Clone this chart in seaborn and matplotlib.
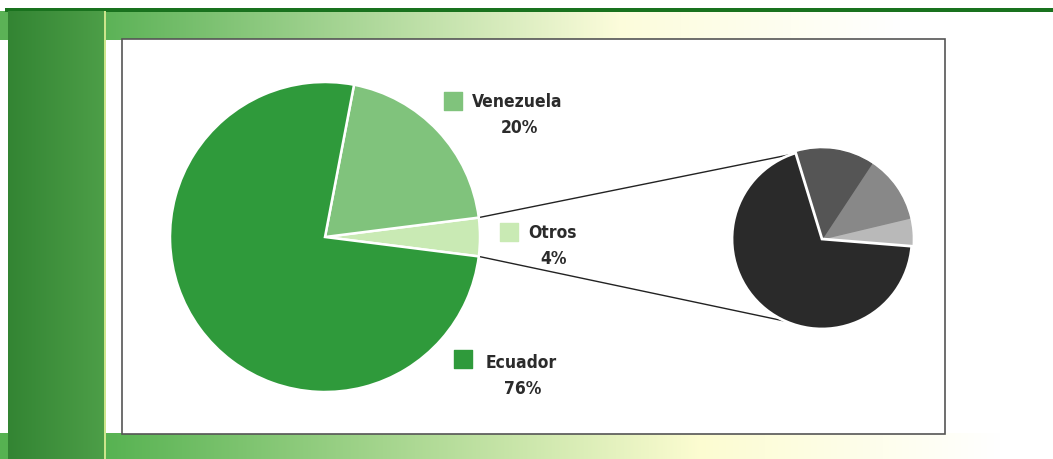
import numpy as np
import matplotlib
matplotlib.use("Agg")
import matplotlib.pyplot as plt
from matplotlib.patches import Rectangle
from matplotlib import font_manager
import seaborn as sns

# Data
countries = ["Otros", "Venezuela", "Ecuador"]
shares = [4, 20, 76]
share_labels = ["4%", "20%", "76%"]
otros_parts = [69, 5, 12, 14]

sns.set_theme(style="white")

# pick a condensed bold face if one is installed
narrow_path = None
for f in font_manager.fontManager.ttflist:
    if ("Narrow" in f.fname or "Condensed" in f.fname) and "Bold" in f.fname \
            and "Oblique" not in f.fname and "Italic" not in f.fname:
        narrow_path = f.fname
        break
plt.rcParams['font.family'] = ['DejaVu Sans']

greens = ["#c9eab4", "#80c37c", "#2f9a3b"]
grays = ["#2a2a2a", "#b9b9b9", "#888888", "#555555"]

W, H = 1053, 460
fig = plt.figure(figsize=(W / 100, H / 100), dpi=100)
ax = fig.add_axes([0, 0, 1, 1])

# background: green bands fading to pale yellow / white
bg = np.ones((H, W, 3))
xs = np.arange(W)


def band(x0, x1, x2, c0, c1):
    col = np.ones((W, 3))
    for k in range(3):
        col[:, k] = np.interp(xs, [x0, x1, x2, W], [c0[k], c1[k], 1.0, 1.0])
    return col


top = band(105, 620, 900, (0.36, 0.70, 0.34), (0.99, 0.99, 0.86))
bot = band(105, 700, 1000, (0.34, 0.70, 0.32), (0.99, 0.99, 0.82))
bg[12:41, :] = top
bg[434:, :] = bot
bg[9:13, 5:] = np.array([0.10, 0.45, 0.12])
for k, (a, b) in enumerate(zip((0.20, 0.52, 0.20), (0.30, 0.62, 0.28))):
    bg[12:, 8:104, k] = np.linspace(a, b, 96)[None, :]
bg[12:, 104:106] = np.array([0.80, 0.90, 0.55])
ax.imshow(bg, extent=(0, W, 0, H), origin="upper", zorder=0)

ax.add_patch(Rectangle((122, 460 - 435), 823, 395, facecolor="white",
                       edgecolor="#555555", linewidth=1.2, zorder=1))

# main pie
c_main, r_main = (325, 222), 155
ax.pie(shares, colors=greens, startangle=-7.2, counterclock=True,
       center=c_main, radius=r_main,
       wedgeprops=dict(edgecolor="white", linewidth=1.8, zorder=3))

# detail pie for "Otros"
c_small, r_small = (822, 220), 90
wedges, _ = ax.pie(otros_parts, colors=grays, startangle=107, counterclock=True,
                   center=c_small, radius=r_small,
                   wedgeprops=dict(linewidth=1.0, zorder=3))
for w, col in zip(wedges, grays):
    w.set_edgecolor(col)
wedges[0].set_edgecolor("white")
wedges[0].set_linewidth(2)
wedges[0].set_zorder(4)

# connector lines
half = np.radians(shares[0] / 100 * 360 / 2)
for sgn, ang in ((1, 110), (-1, 246)):
    x0 = c_main[0] + r_main * np.cos(half)
    y0 = c_main[1] + sgn * r_main * np.sin(half)
    x1 = c_small[0] + r_small * np.cos(np.radians(ang))
    y1 = c_small[1] + r_small * np.sin(np.radians(ang))
    ax.plot([x0, x1], [y0, y1], color="#222222", lw=1.0, zorder=2)

# labels
if narrow_path:
    fp = font_manager.FontProperties(fname=narrow_path, size=12.5)
else:
    fp = font_manager.FontProperties(family="DejaVu Sans", stretch="condensed",
                                     weight="bold", size=11.5)
sq_pos = {"Venezuela": (453, 358), "Otros": (509, 227), "Ecuador": (463, 100)}
txt_pos = {"Venezuela": (517, 358), "Otros": (552, 227), "Ecuador": (521, 97)}
for name, col, lab in zip(countries, greens, share_labels):
    sx, sy = sq_pos[name]
    ax.scatter([sx], [sy], marker="s", s=175, color=col, zorder=4)
    tx, ty = txt_pos[name]
    ax.text(tx, ty, name, ha="center", va="center", fontproperties=fp,
            color="#2b2b2b", zorder=4)
    ax.text(tx + 2, ty - 26, lab, ha="center", va="center", fontproperties=fp,
            color="#2b2b2b", zorder=4)

ax.set_xlim(0, W)
ax.set_ylim(0, H)
ax.set_aspect("equal")
ax.axis("off")

fig.savefig("out.png", dpi=100)
